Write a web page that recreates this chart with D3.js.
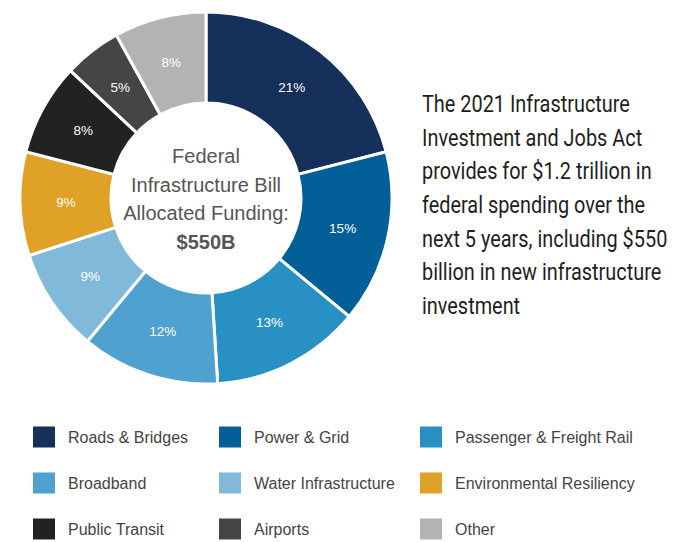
<!DOCTYPE html>
<html>
<head>
<meta charset="utf-8">
<script src="https://cdn.jsdelivr.net/npm/d3@7"></script>
<style>
  body { margin: 0; background: #ffffff; }
  svg { display: block; }
</style>
</head>
<body>
<svg id="svg1" width="682" height="542"></svg>
<script>
// données
var categories = ["Roads & Bridges", "Power & Grid", "Passenger & Freight Rail",
                  "Broadband", "Water Infrastructure", "Environmental Resiliency",
                  "Public Transit", "Airports", "Other"];
var shares = [21, 15, 13, 12, 9, 9, 8, 5, 8];
var colors = ["#15305a", "#035f98", "#2990c4", "#4fa2cf", "#80b9da", "#e0a127",
              "#222222", "#454545", "#b3b3b3"];
var centerLines = ["Federal", "Infrastructure Bill", "Allocated Funding:"];
var centerTotal = "$550B";
var noteLines = ["The 2021 Infrastructure", "Investment and Jobs Act",
                 "provides for $1.2 trillion in", "federal spending over the",
                 "next 5 years, including $550", "billion in new infrastructure",
                 "investment"];

function draw(){
    var svg = d3.select("#svg1");
    var gContainer = svg.append("g");

    // Donut
    var cx = 206, cy = 198;
    var outerR = 186, innerR = 95;

    var pie = d3.pie().sort(null).value(function(d) { return d; });
    var arc = d3.arc().innerRadius(innerR).outerRadius(outerR);
    var labelArc = d3.arc().innerRadius(140).outerRadius(140);

    var gPie = gContainer.append("g");
    gPie.attr("transform", "translate(" + cx + "," + cy + ")");

    var slices = gPie.selectAll("g.slice")
        .data(pie(shares))
        .enter().append("g")
        .attr("class", "slice");

    slices.append("path")
        .attr("d", arc)
        .attr("fill", function(d, i) { return colors[i]; })
        .attr("stroke", "#ffffff")
        .attr("stroke-width", 3)
        .attr("stroke-linejoin", "miter");

    slices.append("text")
        .attr("transform", function(d) { return "translate(" + labelArc.centroid(d) + ")"; })
        .attr("text-anchor", "middle")
        .attr("dy", "0.35em")
        .attr("font-family", "'Liberation Sans', Arial, sans-serif")
        .attr("font-size", 13.5)
        .attr("fill", "#ffffff")
        .text(function(d) { return d.data + "%"; });

    // texte au centre
    var gCenter = gPie.append("g")
        .attr("font-family", "'Liberation Sans', Arial, sans-serif")
        .attr("text-anchor", "middle")
        .attr("fill", "#555555");
    gCenter.selectAll("text.line")
        .data(centerLines)
        .enter().append("text")
        .attr("class", "line")
        .attr("x", 0)
        .attr("y", function(d, i) { return -35 + i * 28.5; })
        .attr("font-size", 20)
        .text(function(d) { return d; });
    gCenter.append("text")
        .attr("x", 0)
        .attr("y", -35 + 3 * 28.5)
        .attr("font-size", 20)
        .attr("font-weight", "bold")
        .text(centerTotal);

    // texte à droite (police condensée : on resserre en largeur)
    var gNote = gContainer.append("g")
        .attr("font-family", "Roboto, 'Liberation Sans', sans-serif")
        .attr("font-size", 24)
        .attr("fill", "#1e1e1e");
    var noteTexts = gNote.selectAll("text")
        .data(noteLines)
        .enter().append("text")
        .attr("x", 0)
        .attr("y", function(d, i) { return 112 + i * 33.7; })
        .text(function(d) { return d; });
    var firstWidth = noteTexts.node().getComputedTextLength();
    var squeeze = 208 / firstWidth;
    gNote.attr("transform", "translate(422,0) scale(" + squeeze + ",1)");

    // Légende
    var legendX = d3.scaleOrdinal().domain([0, 1, 2]).range([33, 219, 420]);
    var legendY = d3.scaleOrdinal().domain([0, 1, 2]).range([437, 483, 529]);

    var legend = gContainer.append("g")
        .attr("font-family", "'Liberation Sans', Arial, sans-serif")
        .attr("font-size", 16)
        .attr("fill", "#444444");
    var items = legend.selectAll("g.item")
        .data(categories)
        .enter().append("g")
        .attr("class", "item")
        .attr("transform", function(d, i) {
            return "translate(" + legendX(i % 3) + "," + legendY(Math.floor(i / 3)) + ")";
        });
    items.append("rect")
        .attr("x", 0)
        .attr("y", -10.5)
        .attr("width", 22)
        .attr("height", 21)
        .attr("fill", function(d, i) { return colors[i]; });
    items.append("text")
        .attr("x", 35)
        .attr("dy", "0.35em")
        .text(function(d) { return d; });
}
draw();
</script>
</body>
</html>
